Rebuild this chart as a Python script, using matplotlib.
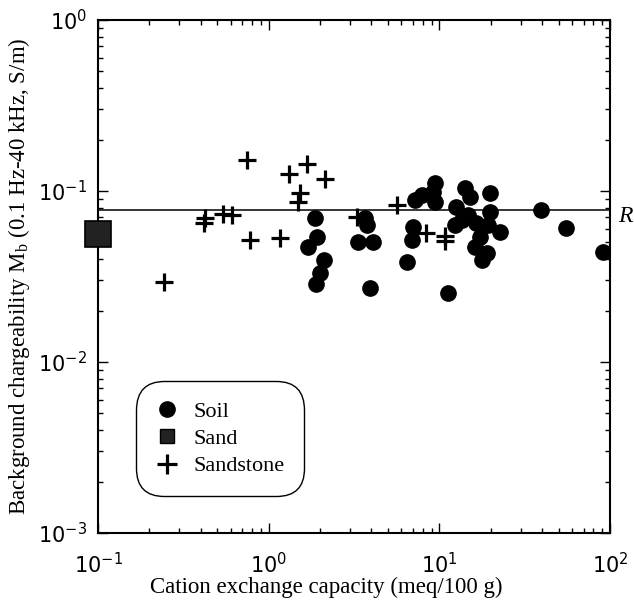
import matplotlib
matplotlib.use("Agg")
import matplotlib.pyplot as plt
from matplotlib.lines import Line2D
from matplotlib.ticker import LogLocator, NullFormatter

plt.rcParams["mathtext.fontset"] = "custom"
plt.rcParams["mathtext.rm"] = "Liberation Sans"
plt.rcParams["mathtext.it"] = "Liberation Sans:italic"
plt.rcParams["mathtext.bf"] = "Liberation Sans:bold"
plt.rcParams["mathtext.sf"] = "Liberation Serif"

# ---- data ----
soil_cec = [1.88, 1.91, 1.71, 2.11, 2.00, 1.89,
            3.67, 3.75, 3.35, 4.10, 3.92,
            7.20, 7.88, 9.42, 9.21, 9.42, 7.03, 6.88, 6.43,
            14.1, 15.1, 19.8, 19.8, 12.6, 14.8, 12.3, 13.5, 16.5, 19.3,
            22.6, 17.3, 16.2, 18.9, 17.7, 11.3, 39.4, 55.0, 91.2]
soil_mb = [0.0698, 0.0540, 0.0469, 0.0395, 0.0333, 0.0286,
           0.0692, 0.0633, 0.0505, 0.0505, 0.0270,
           0.0886, 0.0947, 0.111, 0.0991, 0.0866, 0.0619, 0.0517, 0.0386,
           0.104, 0.0926, 0.0978, 0.0757, 0.0810, 0.0724, 0.0633, 0.0677, 0.0647, 0.0633,
           0.0578, 0.0540, 0.0472, 0.0432, 0.0395, 0.0252, 0.0774, 0.0605, 0.0438]

sand_cec = [0.1]
sand_mb = [0.0561]

sandstone_cec = [0.743, 1.32, 1.67, 2.14, 1.53, 1.49, 0.424, 0.418, 0.542, 0.607,
                 0.776, 1.16, 0.244, 3.28, 5.67, 8.35, 10.8, 10.8]
sandstone_mb = [0.152, 0.125, 0.144, 0.117, 0.0978, 0.0859, 0.0692, 0.0647, 0.0733, 0.0724,
                0.0517, 0.0529, 0.0295, 0.0707, 0.0828, 0.0566, 0.0546, 0.0510]

ref_level = 0.077
legend_labels = ["Soil", "Sand", "Sandstone"]

# ---- figure ----
fig = plt.figure(figsize=(6.34, 6.07), dpi=100)
ax = fig.add_axes([98/634, 1-533/607, 512/634, 513/607])

ax.set_xscale("log")
ax.set_yscale("log")
ax.set_xlim(0.1, 100)
ax.set_ylim(1e-3, 1)

ax.axhline(ref_level, color="black", lw=1.1, zorder=1)

ax.plot(soil_cec, soil_mb, linestyle="none", marker="o", ms=11,
        color="black", zorder=3)
ax.plot(sand_cec, sand_mb, linestyle="none", marker="s", ms=19,
        markerfacecolor="#222222", markeredgecolor="black", mew=1.2,
        zorder=4, clip_on=False)
ax.plot(sandstone_cec, sandstone_mb, linestyle="none", marker="+", ms=13,
        mew=2.3, color="black", zorder=3)

ax.text(1.016, ref_level * 0.92, "R", transform=ax.get_yaxis_transform(),
        family="Liberation Serif", style="italic", fontsize=17,
        va="center", ha="left")

for side in ["left", "right", "top", "bottom"]:
    ax.spines[side].set_linewidth(1.5)

ax.tick_params(which="both", direction="in", top=True, right=True, width=1.0)
ax.tick_params(which="major", length=7)
ax.tick_params(which="minor", length=3.5)
ax.xaxis.set_minor_locator(LogLocator(base=10, subs=range(2, 10), numticks=20))
ax.yaxis.set_minor_locator(LogLocator(base=10, subs=range(2, 10), numticks=20))
ax.xaxis.set_minor_formatter(NullFormatter())
ax.yaxis.set_minor_formatter(NullFormatter())
ax.tick_params(axis="both", labelsize=15)
ax.tick_params(axis="x", pad=14)
ax.tick_params(axis="y", pad=8)

ax.set_xlabel("Cation exchange capacity (meq/100 g)", family="Liberation Serif",
              fontsize=16.5, labelpad=1)
ax.xaxis.set_label_coords(0.445, -0.085)
ax.set_ylabel(r"Background chargeability M$_\mathsf{b}$ (0.1 Hz-40 kHz, S/m)",
              family="Liberation Serif", fontsize=16.5, labelpad=4)

handles = [
    Line2D([], [], linestyle="none", marker="o", ms=11, color="black"),
    Line2D([], [], linestyle="none", marker="s", ms=10, markerfacecolor="#222222",
           markeredgecolor="black"),
    Line2D([], [], linestyle="none", marker="+", ms=14, mew=2.3, color="black"),
]
leg = ax.legend(handles, legend_labels, loc="lower left",
                bbox_to_anchor=(0.082, 0.08), prop={"family": "Liberation Serif", "size": 16},
                frameon=True, fancybox=True, handlelength=1.0, handletextpad=0.7,
                borderpad=0.7, labelspacing=0.3, borderaxespad=0)
frame = leg.get_frame()
frame.set_edgecolor("black")
frame.set_linewidth(1.0)
frame.set_boxstyle("round,pad=0.2,rounding_size=1.3")
frame.set_alpha(1)

fig.savefig("out.png", dpi=100)
